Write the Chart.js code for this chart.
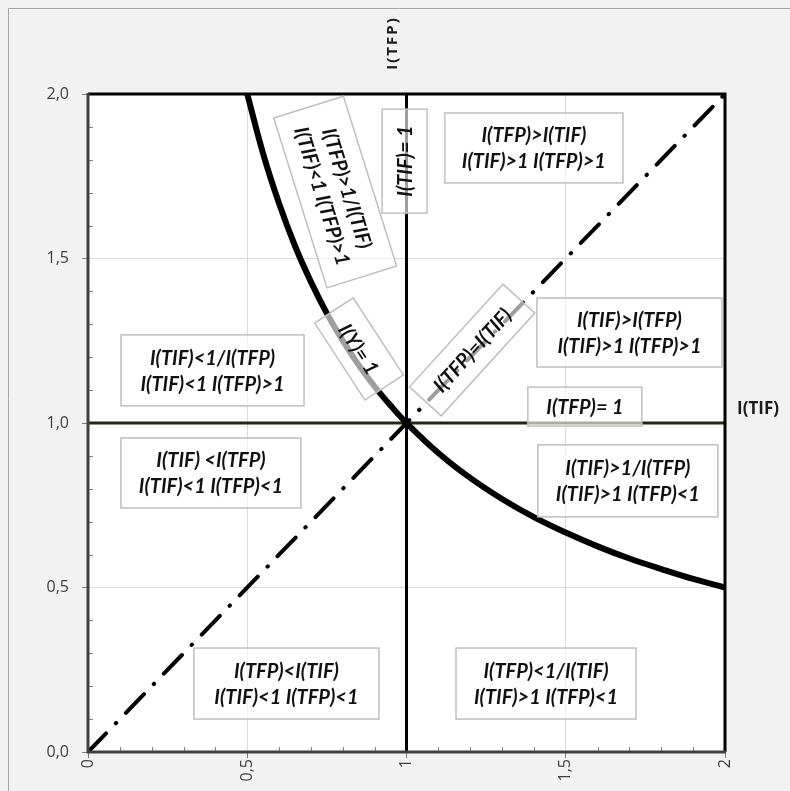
<!DOCTYPE html>
<html>
<head>
<meta charset="utf-8">
<script src="https://cdn.jsdelivr.net/npm/chart.js@4.4.1/dist/chart.umd.min.js"></script>
<style>
  html, body { margin: 0; padding: 0; background: #f2f2f2; }
  #wrap { width: 790px; height: 791px; }
</style>
</head>
<body>
<div id="wrap"><canvas id="quad-chart" width="790" height="791"></canvas></div>
<script>
// axis ticks
const tickValues = [0, 0.5, 1, 1.5, 2];

// I(Y) = 1 curve
const curveX = [0.5, 0.55, 0.6, 0.65, 0.7, 0.75, 0.8, 0.85, 0.9, 0.95, 1.0, 1.1, 1.2, 1.3, 1.4, 1.5, 1.6, 1.7, 1.8, 1.9, 2.0];
const curveY = [2.0, 1.818, 1.667, 1.538, 1.429, 1.333, 1.25, 1.176, 1.111, 1.053, 1.0, 0.909, 0.833, 0.769, 0.714, 0.667, 0.625, 0.588, 0.556, 0.526, 0.5];

// I(TFP) = I(TIF) diagonal
const diagX = [0, 2];
const diagY = [0, 2];

// I(TIF) = 1 and I(TFP) = 1
const vertX = [1, 1];
const vertY = [0, 2];
const horizX = [0, 2];
const horizY = [1, 1];

// text boxes: centre in data units
const boxLabels = [
    ['I(TFP)>I(TIF)', 'I(TIF)>1 I(TFP)>1'],
    ['I(TIF)>I(TFP)', 'I(TIF)>1 I(TFP)>1'],
    ['I(TIF)<1/I(TFP)', 'I(TIF)<1 I(TFP)>1'],
    ['I(TIF) <I(TFP)', 'I(TIF)<1 I(TFP)<1'],
    ['I(TIF)>1/I(TFP)', 'I(TIF)>1 I(TFP)<1'],
    ['I(TFP)<I(TIF)', 'I(TIF)<1 I(TFP)<1'],
    ['I(TFP)<1/I(TIF)', 'I(TIF)>1 I(TFP)<1'],
    ['I(TIF)= 1'],
    ['I(TFP)= 1'],
    ['I(TFP)>1/I(TIF)', 'I(TIF)<1 I(TFP)>1'],
    ['I(Y)= 1'],
    ['I(TFP)=I(TIF)']
];
const boxX = [1.400, 1.700, 0.391, 0.386, 1.695, 0.623, 1.438, 0.994, 1.560, 0.776, 0.851, 1.206];
const boxY = [1.836, 1.275, 1.160, 0.848, 0.824, 0.208, 0.208, 1.796, 1.050, 1.702, 1.225, 1.222];
const boxW = [178, 185, 183, 180, 180, 185, 180, 104, 114, 178, 92, 139];
const boxH = [70, 69, 71, 70, 72, 71, 71, 45, 39, 73, 46, 43];
const boxAngle = [0, 0, 0, 0, 0, 0, 0, -90, 0, 72.6, 56.9, -47.7];

const toPoints = (xs, ys) => xs.map((x, i) => ({ x: x, y: ys[i] }));
const fmt = v => (v === 0 || v === 1 || v === 2) ? String(v) : String(v).replace('.', ',');

const backdrop = {
    id: 'backdrop',
    beforeDraw(chart) {
        const { ctx, chartArea: a } = chart;
        ctx.save();
        ctx.fillStyle = '#f2f2f2';
        ctx.fillRect(0, 0, chart.width, chart.height);
        ctx.strokeStyle = '#a6a6a6';
        ctx.lineWidth = 1;
        ctx.beginPath();
        ctx.moveTo(8.5, chart.height);
        ctx.lineTo(8.5, 8.5);
        ctx.lineTo(chart.width, 8.5);
        ctx.stroke();
        ctx.fillStyle = '#ffffff';
        ctx.fillRect(a.left, a.top, a.right - a.left, a.bottom - a.top);
        ctx.restore();
    }
};

const overlay = {
    id: 'overlay',
    afterDatasetsDraw(chart) {
        const { ctx, chartArea: a, scales: { x, y } } = chart;
        ctx.save();

        // minor ticks, inside the plot
        ctx.strokeStyle = '#7f7f7f';
        ctx.lineWidth = 1;
        ctx.beginPath();
        for (let i = 1; i < 20; i++) {
            if (i % 5 === 0) continue;
            const px = Math.round(x.getPixelForValue(i / 10)) + 0.5;
            const py = Math.round(y.getPixelForValue(i / 10)) + 0.5;
            ctx.moveTo(px, a.bottom);
            ctx.lineTo(px, a.bottom - 5);
            ctx.moveTo(a.left, py);
            ctx.lineTo(a.left + 5, py);
        }
        ctx.stroke();

        // frame
        ctx.lineWidth = 3;
        ctx.strokeStyle = '#000000';
        ctx.beginPath();
        ctx.moveTo(a.left, a.top);
        ctx.lineTo(a.right, a.top);
        ctx.lineTo(a.right, a.bottom);
        ctx.stroke();
        ctx.strokeStyle = '#404040';
        ctx.beginPath();
        ctx.moveTo(a.left, a.top - 1);
        ctx.lineTo(a.left, a.bottom);
        ctx.lineTo(a.right + 1, a.bottom);
        ctx.stroke();

        // boxes
        boxLabels.forEach((lines, i) => {
            const cx = x.getPixelForValue(boxX[i]);
            const cy = y.getPixelForValue(boxY[i]);
            ctx.save();
            ctx.translate(cx, cy);
            ctx.rotate(boxAngle[i] * Math.PI / 180);
            ctx.fillStyle = 'rgba(255,255,255,0.62)';
            ctx.fillRect(-boxW[i] / 2, -boxH[i] / 2, boxW[i], boxH[i]);
            ctx.strokeStyle = '#bfbfbf';
            ctx.lineWidth = 1.5;
            ctx.strokeRect(-boxW[i] / 2, -boxH[i] / 2, boxW[i], boxH[i]);
            ctx.fillStyle = '#111111';
            ctx.font = 'italic bold 20px Lato';
            ctx.textAlign = 'center';
            ctx.textBaseline = 'middle';
            const lh = 26;
            lines.forEach((t, k) => {
                ctx.fillText(t, 0, (k - (lines.length - 1) / 2) * lh + 1);
            });
            ctx.restore();
        });

        // axis names
        ctx.fillStyle = '#1a1a1a';
        ctx.font = 'bold 17px "Open Sans"';
        ctx.textAlign = 'center';
        ctx.textBaseline = 'middle';
        ctx.fillText('I(TIF)', 758, y.getPixelForValue(1) - 14);
        ctx.save();
        ctx.translate(x.getPixelForValue(1) - 14, 43);
        ctx.rotate(-Math.PI / 2);
        ctx.font = 'bold 15px "Open Sans"';
        ctx.letterSpacing = '2px';
        ctx.fillText('I(TFP)', 0, 0);
        ctx.restore();

        ctx.restore();
    }
};

new Chart(document.getElementById('quad-chart'), {
    type: 'scatter',
    data: {
        datasets: [
            {
                label: 'I(Y)= 1',
                data: toPoints(curveX, curveY),
                showLine: true,
                borderColor: '#000000',
                borderWidth: 6,
                pointRadius: 0,
                tension: 0.4
            },
            {
                label: 'I(TFP)=I(TIF)',
                data: toPoints(diagX, diagY),
                showLine: true,
                borderColor: '#000000',
                borderWidth: 4,
                borderDash: [26, 14, 0.5, 14],
                borderCapStyle: 'round',
                pointRadius: 0
            },
            {
                label: 'I(TIF)= 1',
                data: toPoints(vertX, vertY),
                showLine: true,
                borderColor: '#000000',
                borderWidth: 3,
                pointRadius: 0
            },
            {
                label: 'I(TFP)= 1',
                data: toPoints(horizX, horizY),
                showLine: true,
                borderColor: '#262610',
                borderWidth: 3,
                pointRadius: 0
            }
        ]
    },
    options: {
        responsive: false,
        animation: false,
        layout: { padding: { top: 94, right: 65, left: 0, bottom: 0 } },
        plugins: {
            legend: { display: false },
            tooltip: { enabled: false }
        },
        scales: {
            x: {
                type: 'linear',
                min: 0,
                max: 2,
                afterBuildTicks: s => { s.ticks = tickValues.map(v => ({ value: v })); },
                afterFit: s => { s.height = 39; },
                border: { display: false },
                grid: { color: '#d9d9d9', lineWidth: 1, tickLength: 6, tickColor: '#7f7f7f' },
                ticks: {
                    minRotation: 90,
                    maxRotation: 90,
                    padding: 1,
                    color: '#404040',
                    font: { family: '"Open Sans"', size: 16 },
                    callback: v => fmt(v)
                }
            },
            y: {
                type: 'linear',
                min: 0,
                max: 2,
                afterBuildTicks: s => { s.ticks = tickValues.map(v => ({ value: v })); },
                afterFit: s => { s.width = 88; },
                border: { display: false },
                grid: { color: '#d9d9d9', lineWidth: 1, tickLength: 6, tickColor: '#7f7f7f' },
                ticks: {
                    padding: 13,
                    color: '#404040',
                    font: { family: '"Open Sans"', size: 16 },
                    callback: v => v.toFixed(1).replace('.', ',')
                }
            }
        }
    },
    plugins: [backdrop, overlay]
});
</script>
</body>
</html>
